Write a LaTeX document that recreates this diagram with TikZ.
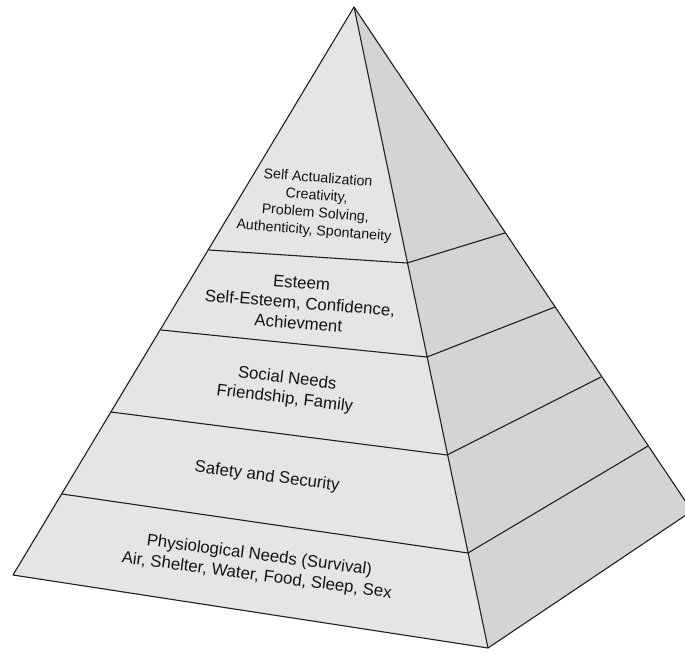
\documentclass[tikz,border=0pt]{standalone}
\usepackage{fontspec}
\setmainfont{Liberation Sans}
\begin{document}
\begin{tikzpicture}[x=1pt,y=-1pt,
  edge/.style={draw=black!88,line width=1.1pt,line join=round},
  frontface/.style={fill=black!10},
  sideface/.style={fill=black!17},
  tierlabel/.style={align=center,text=black!92,inner sep=0pt,
    font=\fontsize{16.8}{20.3}\selectfont},
  toplabel/.style={align=center,text=black!92,inner sep=0pt,
    font=\fontsize{14.2}{17.6}\selectfont}]
\useasboundingbox (0,0) rectangle (685,653);
\clip (0,0) rectangle (685,653);

% corners of the pyramid
\coordinate (A)  at (354,7);
\coordinate (BL) at (13,575);
\coordinate (BF) at (488,648);
\coordinate (BR) at (692,511);

% tier boundaries on the left front edge
\coordinate (L1) at (209,250);
\coordinate (L2) at (161,330);
\coordinate (L3) at (111,412);
\coordinate (L4) at (62,494);
% tier boundaries on the front-right edge
\coordinate (R1) at (407,263);
\coordinate (R2) at (427,357);
\coordinate (R3) at (447,455);
\coordinate (R4) at (468,553);
% tier boundaries on the back-right edge
\coordinate (K1) at (505,233);
\coordinate (K2) at (555,307);
\coordinate (K3) at (601,377);
\coordinate (K4) at (648,446);

% faces
\fill[frontface] (A) -- (BL) -- (BF) -- cycle;
\fill[sideface]  (A) -- (BF) -- (BR) -- cycle;

% outline
\draw[edge] (A) -- (BL) -- (BF) -- (BR) -- cycle;
\draw[edge] (A) -- (BF);

% tier lines
\foreach \i in {1,...,4}{
  \draw[edge] (L\i) -- (R\i) -- (K\i);
}

% labels
\node[toplabel,rotate=-4.5] (t5) at (316,205)
  {Self Actualization\\Creativity,\\Problem Solving,\\Authenticity, Spontaneity};
\node[tierlabel,rotate=-4.5] (t4) at (300,303)
  {Esteem\\Self-Esteem, Confidence,\\Achievment};
\node[tierlabel,rotate=-7] (t3) at (286,389)
  {Social Needs\\Friendship, Family};
\node[tierlabel,rotate=-7.5] (t2) at (267,477)
  {Safety and Security};
\node[tierlabel,rotate=-7.5] (t1) at (258,566)
  {Physiological Needs (Survival)\\Air, Shelter, Water, Food, Sleep, Sex};
\end{tikzpicture}
\end{document}
